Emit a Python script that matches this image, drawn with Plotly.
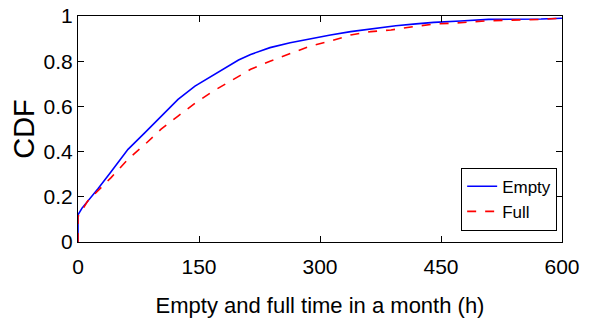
import plotly.graph_objects as go

empty_hours = [0, 0, 5, 12, 25, 41, 62, 83, 103, 124, 145, 166, 188, 199, 214, 238, 263, 288, 313, 338, 371, 394, 419, 441, 474, 509, 574, 600]
empty_cdf = [0, 0.12, 0.15, 0.18, 0.237, 0.311, 0.41, 0.484, 0.557, 0.631, 0.69, 0.735, 0.785, 0.805, 0.83, 0.86, 0.882, 0.90, 0.916, 0.931, 0.948, 0.957, 0.965, 0.972, 0.978, 0.985, 0.987, 0.99]

full_hours = [0, 0, 5, 12, 41, 62, 83, 103, 124, 145, 166, 189, 214, 238, 263, 288, 313, 338, 363, 388, 416, 444, 474, 507, 574, 600]
full_cdf = [0, 0.112, 0.14, 0.181, 0.285, 0.366, 0.432, 0.499, 0.557, 0.614, 0.664, 0.712, 0.764, 0.80, 0.835, 0.867, 0.889, 0.916, 0.931, 0.938, 0.953, 0.965, 0.97, 0.979, 0.985, 0.99]

x_ticks = [0, 150, 300, 450, 600]
y_ticks = [0, 0.2, 0.4, 0.6, 0.8, 1]
y_tick_labels = ["0", "0.2", "0.4", "0.6", "0.8", "1"]

FONT = "Liberation Sans, Arial, sans-serif"

fig = go.Figure()
fig.add_trace(go.Scatter(x=empty_hours, y=empty_cdf, mode="lines", name="Empty",
                         line=dict(color="#0000ff", width=1.6)))
fig.add_trace(go.Scatter(x=full_hours, y=full_cdf, mode="lines", name="Full",
                         line=dict(color="#ff0000", width=1.6, dash="dash")))

axis_common = dict(showgrid=False, zeroline=False, showline=True, linecolor="black",
                   linewidth=1, mirror="ticks", ticks="inside", ticklen=6,
                   tickcolor="black", tickwidth=1, automargin=False,
                   tickfont=dict(family=FONT, size=21, color="black"))

fig.update_layout(
    width=589, height=326,
    margin=dict(l=78, r=27, t=16, b=84),
    paper_bgcolor="white", plot_bgcolor="white",
    font=dict(family=FONT, color="black"),
    xaxis=dict(range=[0, 600], tickvals=x_ticks, ticktext=[str(v) for v in x_ticks],
               ticklabelstandoff=6,
               title=dict(text="Empty and full time in a month (h)", font=dict(family=FONT, size=22), standoff=20),
               **axis_common),
    yaxis=dict(range=[0, 1], tickvals=y_ticks, ticktext=y_tick_labels,
               title=dict(text="CDF", font=dict(family=FONT, size=29), standoff=0),
               **axis_common),
    legend=dict(x=0.99, y=0.05, xanchor="right", yanchor="bottom",
                bordercolor="black", borderwidth=1, bgcolor="white",
                font=dict(family=FONT, size=17, color="black"),
                tracegroupgap=0, itemwidth=30),
    showlegend=True,
)

fig.write_html("out.html", config={"displayModeBar": False},
               post_script="document.body.style.margin='0';")
